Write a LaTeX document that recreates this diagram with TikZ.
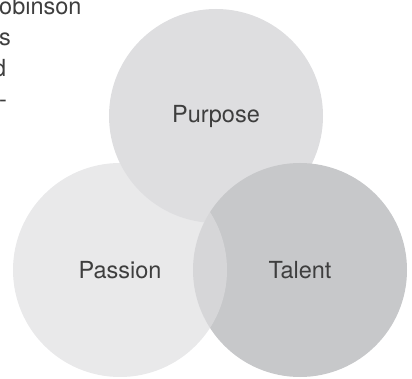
\documentclass[tikz,border=0pt]{standalone}
\usepackage{fontspec}
\setmainfont{TeX Gyre Heros}
\definecolor{purposegray}{RGB}{222,222,224}
\definecolor{talentgray}{RGB}{199,200,202}
\definecolor{passiongray}{RGB}{222,222,224}
\definecolor{labelgray}{RGB}{62,62,62}
\tikzset{
  ring/.style={circle,draw=none,minimum size=214pt,inner sep=0pt,
    text=labelgray,font=\fontsize{23.5}{28}\selectfont},
  cutline/.style={anchor=base west,inner sep=0pt,text=labelgray,
    font=\fontsize{23.5}{28}\selectfont}
}
\begin{document}
\begin{tikzpicture}[x=1pt,y=-1pt]
\useasboundingbox (0,0) rectangle (412,379);
\node[cutline] (line1) at (-1,15) {obinson};
\node[cutline] (line2) at (-1,46) {s};
\node[cutline] (line3) at (-7,77) {d};
\node[cutline] (line4) at (-1,108) {-};
\node[ring,fill=purposegray] (purpose) at (216,116) {Purpose};
\node[ring,fill=talentgray] (talent) at (300,270) {Talent};
\node[ring,fill=passiongray,fill opacity=0.68,text opacity=1] (passion) at (120,270) {Passion};
\end{tikzpicture}
\end{document}
